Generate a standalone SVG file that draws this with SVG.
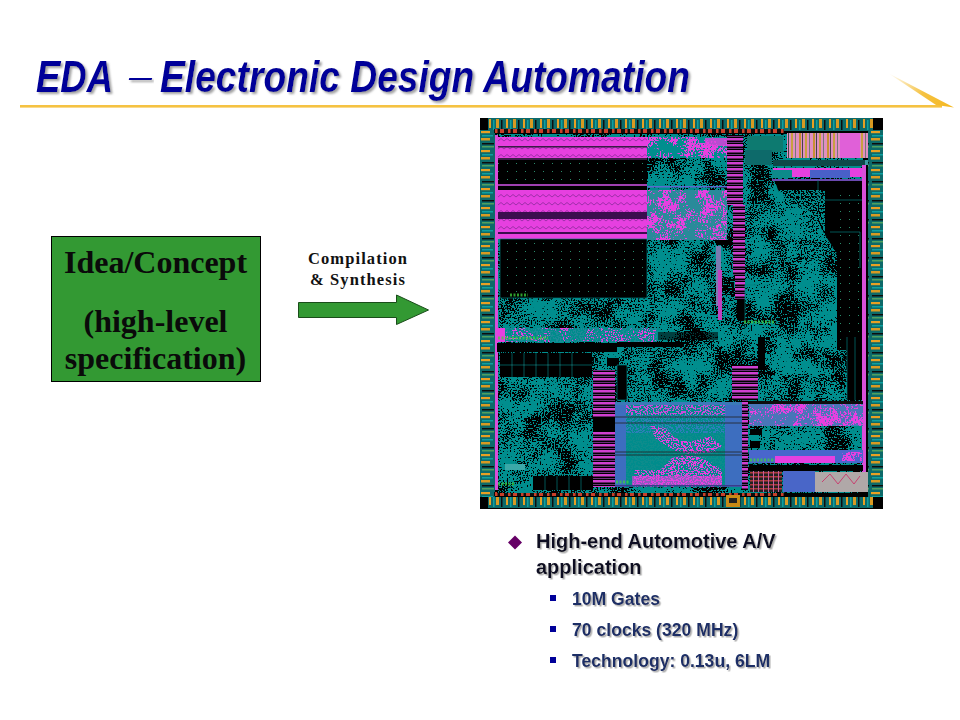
<svg xmlns="http://www.w3.org/2000/svg" width="960" height="720" viewBox="0 0 960 720">
<style>
.title{font:italic bold 44px "Liberation Sans",Arial,sans-serif;fill:#000099;filter:url(#shadow)}
.dash{font:italic normal 30px "Liberation Sans",Arial,sans-serif;fill:#000099;filter:url(#shadow)}
.box{font:bold 32px "Liberation Serif","Times New Roman",serif;fill:#0a0a0a;text-anchor:middle}
.lab{font:bold 16.5px "Liberation Serif","Times New Roman",serif;fill:#111;letter-spacing:1.1px}
.b1{font:bold 20px "Liberation Sans",Arial,sans-serif;fill:#111122;filter:url(#shadow2)}
.b2{font:bold 17.6px "Liberation Sans",Arial,sans-serif;fill:#1c2f66;filter:url(#shadow2)}
.tn{filter:url(#tealBlack)}
.tsp{filter:url(#tealOnly)}
.pk{fill:#e63fe0}
.pks{filter:url(#pinkSpeck)}
.blk{fill:#000}
.stripe{fill:url(#hstripe)}
.grid{fill:none;stroke:#0f7f7f;stroke-width:.7}
.gl{stroke:#3fd23f;stroke-width:3;stroke-dasharray:2 1.5;opacity:.75}
</style>
<defs>
<filter id="shadow" x="-5%" y="-20%" width="110%" height="140%"><feDropShadow dx="2" dy="2" stdDeviation="1" flood-color="#999" flood-opacity=".9"/></filter>
<filter id="shadow2" x="-5%" y="-20%" width="110%" height="140%"><feDropShadow dx="1.5" dy="1.5" stdDeviation=".7" flood-color="#999" flood-opacity=".8"/></filter>
<filter id="soft" x="0" y="0" width="1" height="1"><feGaussianBlur stdDeviation=".45"/></filter>
<filter id="tealBlack" x="0" y="0" width="1" height="1" color-interpolation-filters="sRGB">
<feTurbulence type="fractalNoise" baseFrequency=".04" numOctaves="3" seed="5"/>
<feColorMatrix values="2.4 0 0 0 -.7 2.4 0 0 0 -.7 2.4 0 0 0 -.7 0 0 0 0 1" result="lo"/>
<feTurbulence type="fractalNoise" baseFrequency=".7" numOctaves="1" seed="11"/>
<feColorMatrix values="2.4 0 0 0 -.7 2.4 0 0 0 -.7 2.4 0 0 0 -.7 0 0 0 0 1" result="hi"/>
<feComposite in="lo" in2="hi" operator="arithmetic" k2=".42" k3=".58" k4="0"/>
<feColorMatrix values="0 0 0 0 0 0 0 0 0 0 0 0 0 0 0 30 0 0 0 -16.5"/>
<feComposite in2="SourceGraphic" operator="over"/>
</filter>
<filter id="tealOnly" x="0" y="0" width="1" height="1" color-interpolation-filters="sRGB">
<feTurbulence type="fractalNoise" baseFrequency=".6" numOctaves="1" seed="21"/>
<feColorMatrix values="0 0 0 0 .02 0 0 0 0 .55 0 0 0 0 .55 60 0 0 0 -29"/>
</filter>
<filter id="pinkSpeck" x="0" y="0" width="1" height="1" color-interpolation-filters="sRGB">
<feTurbulence type="fractalNoise" baseFrequency=".07" numOctaves="2" seed="8"/>
<feColorMatrix values="2.4 0 0 0 -.7 2.4 0 0 0 -.7 2.4 0 0 0 -.7 0 0 0 0 1" result="lo"/>
<feTurbulence type="fractalNoise" baseFrequency=".6" numOctaves="1" seed="3"/>
<feColorMatrix values="2.4 0 0 0 -.7 2.4 0 0 0 -.7 2.4 0 0 0 -.7 0 0 0 0 1" result="hi"/>
<feComposite in="lo" in2="hi" operator="arithmetic" k2=".5" k3=".5" k4="0"/>
<feColorMatrix values="0 0 0 0 .9 0 0 0 0 .25 0 0 0 0 .88 30 0 0 0 -16.5"/>
<feComposite in2="SourceGraphic" operator="over"/>
</filter>
<pattern id="padH" width="17" height="13" patternUnits="userSpaceOnUse" x="488" y="118">
<rect width="17" height="13" fill="#0a6a6a"/><rect x="1" y="1" width="2" height="9" fill="#e8a020"/><rect x="5" y="2" width="1.5" height="10" fill="#0aa0a0"/><rect x="8" y="1" width="3" height="9" fill="#d89a20"/><rect x="13" y="2" width="1.5" height="10" fill="#111"/>
</pattern>
<pattern id="padV" width="15" height="19" patternUnits="userSpaceOnUse" x="480" y="130">
<rect width="15" height="19" fill="#0a6a6a"/><rect x="1" y="1" width="9" height="2.2" fill="#e8a020"/><rect x="2" y="5" width="11" height="1.5" fill="#0aa0a0"/><rect x="1" y="8" width="9" height="2.5" fill="#d89a20"/><rect x="2" y="13" width="12" height="1.5" fill="#111"/><rect x="2" y="16" width="12" height="1.5" fill="#4fa05f"/>
</pattern>
<pattern id="redRow" width="13" height="4" patternUnits="userSpaceOnUse">
<rect width="13" height="4" fill="#111"/><rect x="1" y="0" width="2.5" height="4" fill="#c8402a"/><rect x="6" y="0" width="4" height="4" fill="#c8402a"/>
</pattern>
<pattern id="wave" width="12" height="8" patternUnits="userSpaceOnUse">
<rect width="12" height="8" fill="#e63fe0"/><path d="M0 5 L3 2.5 L6 5 L9 2.5 L12 5" fill="none" stroke="#8a2a9a" stroke-width=".8"/>
</pattern>
<pattern id="dots" width="9" height="8" patternUnits="userSpaceOnUse">
<rect width="9" height="8" fill="#000"/><rect x="3" y="3" width="1" height="1" fill="#2a8a6a"/>
</pattern>
<pattern id="hstripe" width="4" height="6" patternUnits="userSpaceOnUse">
<rect width="4" height="6" fill="#000"/><rect y="0" width="4" height="2.5" fill="#d03fd0"/><rect y="4" width="4" height=".8" fill="#8a3a9a"/>
</pattern>
<pattern id="vmulti" width="14" height="4" patternUnits="userSpaceOnUse">
<rect width="14" height="4" fill="#e090c0"/><rect x="1" width="2" height="4" fill="#c89030"/><rect x="4" width="1" height="4" fill="#444"/><rect x="7" width="2" height="4" fill="#c8a040"/><rect x="11" width="1" height="4" fill="#777"/>
</pattern>
<pattern id="rstripe" width="5" height="4" patternUnits="userSpaceOnUse">
<rect width="5" height="4" fill="#222"/><rect width="5" height="1.5" fill="#b03a3a"/><rect x="3" width="1" height="4" fill="#c85a9a"/>
</pattern>
<linearGradient id="tip" gradientUnits="userSpaceOnUse" x1="888" y1="74" x2="953" y2="106"><stop offset="0" stop-color="#f5c242" stop-opacity="0"/><stop offset=".55" stop-color="#f5c242"/><stop offset="1" stop-color="#f5b820"/></linearGradient>
</defs>
<rect width="960" height="720" fill="#fff"/>

<g id="title">
<text class="title" x="36" y="92" textLength="77" lengthAdjust="spacingAndGlyphs">EDA</text>
<text class="dash" x="129" y="87" textLength="23" lengthAdjust="spacingAndGlyphs">–</text>
<text class="title" x="160" y="92" textLength="530" lengthAdjust="spacingAndGlyphs">Electronic Design Automation</text>
</g>
<g id="title-rule">
<rect x="20" y="105" width="922" height="2.6" fill="#f5c242"/>
<polygon points="888,73 954,107.500 936,105" fill="url(#tip)"/>
</g>

<g id="idea-node">
<rect x="51.5" y="236.5" width="209" height="145" fill="#339933" stroke="#000" stroke-width="1"/>
<text class="box" x="155.500" y="273">Idea/Concept</text>
<text class="box" x="155.500" y="332">(high-level</text>
<text class="box" x="155.500" y="369">specification)</text>
</g>

<g id="connectors">
<polygon points="298.500,302.500 396.500,302.500 396.500,295 428.500,310 396.500,324.500 396.500,317.500 298.500,317.500" fill="#339933" stroke="#1a4d1a" stroke-width="1"/>
<text class="lab" x="308" y="264">Compilation</text>
<text class="lab" x="310" y="285">&amp; Synthesis</text>
</g>

<g id="chip" filter="url(#soft)">
<rect x="480" y="118" width="403" height="391" fill="#000"/>
<rect x="488" y="118" width="385" height="13" fill="url(#padH)"/>
<rect x="488" y="497" width="385" height="11" fill="url(#padH)"/>
<rect x="480" y="130" width="15" height="367" fill="url(#padV)"/>
<rect x="868" y="130" width="15" height="367" fill="url(#padV)"/>
<rect x="494" y="129" width="290" height="4" fill="url(#redRow)"/>
<rect x="494" y="492" width="290" height="4" fill="url(#redRow)"/>

<rect class="tn" x="497" y="134" width="366" height="359" fill="#008e8e"/>

<!-- left memory bands -->
<rect x="497" y="137" width="150" height="21" fill="url(#wave)"/>
<rect x="497" y="146" width="150" height="1.500" fill="#3a1a4a"/>
<rect x="497" y="158" width="150" height="2" fill="#3a1a4a"/>
<rect x="498" y="160" width="149" height="24" fill="url(#dots)"/>
<rect x="497" y="184" width="150" height="2" fill="#a03fb0"/>
<rect x="497" y="186" width="150" height="4" fill="#000"/>
<rect x="497" y="190" width="150" height="22" fill="url(#wave)"/>
<rect x="497" y="212" width="150" height="7" fill="#3a1050"/>
<rect x="497" y="219" width="150" height="13" fill="url(#wave)"/>
<rect x="497" y="232" width="150" height="2" fill="#3a1050"/>
<rect x="497" y="234" width="150" height="5" class="pk"/>
<rect x="500" y="239" width="147" height="59" fill="url(#dots)"/>
<rect x="500" y="239" width="147" height="59" class="grid"/>

<!-- speckled pink to the right of bands -->
<rect class="pks" x="647" y="137" width="80" height="21" fill="#008e8e"/>
<rect class="pks" x="647" y="190" width="80" height="50" fill="#2a8a9a"/>
<rect x="647" y="186" width="80" height="1.500" fill="#5a6ad0"/>
<rect x="705" y="138" width="22" height="8" class="pk" opacity=".8"/>

<!-- central column -->
<rect class="stripe" x="727" y="135" width="16" height="70"/>
<rect class="stripe" x="733" y="205" width="12" height="70"/>
<rect class="blk" x="737" y="260" width="8" height="60"/>
<rect class="stripe" x="735" y="250" width="10" height="50"/>
<rect class="blk" x="716" y="240" width="15" height="5"/>
<rect x="716" y="246" width="5" height="60" fill="#7a7ab0"/>
<rect x="718" y="270" width="4" height="50" fill="#c040c0"/>

<!-- top mid and striped block -->
<rect x="747" y="136" width="36" height="16" fill="#0a7a70"/>
<rect x="745" y="150" width="27" height="15" fill="#0a6a6a"/>
<rect x="787" y="133" width="81" height="25" fill="url(#vmulti)"/>
<rect x="840" y="133" width="20" height="25" fill="#e060d8"/>
<rect x="846" y="160" width="22" height="5" fill="#3a9aa0"/>
<rect x="773" y="160" width="92" height="6" fill="#0a4a4a"/>
<rect x="773" y="168" width="92" height="9" class="pk"/>
<rect x="810" y="170" width="40" height="8" fill="#4a60c8"/>
<rect x="772" y="170" width="20" height="8" fill="#0a8a8a"/>
<rect x="772" y="179" width="92" height="2" fill="#6a4ab0"/>

<!-- right upper black area -->
<polygon points="775,181 862,181 862,250 838,255 825,235 812,212 796,205 778,190" fill="#000"/>
<rect class="tsp" x="775" y="190" width="50" height="50"/>
<rect x="837" y="190" width="25" height="160" fill="url(#dots)"/>
<path class="grid" d="M818,180V200H862M830,232H860V268"/>
<path class="grid" d="M745,285V340M745,285H770"/>

<!-- pink strips -->
<rect x="862" y="165" width="4" height="320" fill="#d84fd8"/>
<rect x="495" y="135" width="3" height="355" fill="#d84fd8"/>

<!-- left-mid band -->
<rect class="pks" x="497" y="328" width="160" height="14" fill="#1a8a98"/>
<rect class="tsp" x="505" y="328" width="152" height="14"/>
<rect x="497" y="328" width="8" height="14" class="pk"/>
<rect class="blk" x="617" y="342" width="66" height="5"/>
<rect class="blk" x="658" y="332" width="60" height="8" opacity=".55"/>
<rect class="blk" x="497" y="343" width="120" height="9"/>
<rect class="blk" x="500" y="353" width="92" height="24"/>
<path class="grid" d="M512,353V377M524,353V377M536,353V377M548,353V377M560,353V377M572,353V377M500,365H592"/>
<rect x="505" y="464" width="20" height="6" fill="#3aa8a8"/>
<rect class="blk" x="533" y="476" width="60" height="14"/>
<path class="grid" d="M545,476V490M557,476V490M569,476V490M581,476V490"/>

<!-- central stripes -->
<rect class="stripe" x="593" y="370" width="22" height="117"/>
<rect class="blk" x="593" y="418" width="22" height="14"/>
<rect class="blk" x="607" y="358" width="12" height="8"/>
<rect class="blk" x="617" y="365" width="10" height="35"/>
<path class="grid" d="M617,365V400H627V365Z"/>

<!-- blue pink block -->
<rect x="615" y="405" width="127" height="82" fill="#0b8c8c"/>
<rect x="626" y="405" width="100" height="28" fill="#2f7fb8"/>
<rect class="pk" x="626" y="405" width="100" height="10" opacity=".85"/>
<path class="pk" d="M650,425 L665,428 L675,438 L690,442 L710,436 L722,446 L715,452 L690,454 L672,450 L655,438Z"/>
<path class="pk" d="M635,470 L660,470 L672,458 L685,455 L705,458 L722,470 L722,487 L632,487Z"/>
<rect class="tsp" x="615" y="405" width="127" height="82"/>
<rect x="615" y="405" width="11" height="82" fill="#4a66cc" opacity=".8"/>
<rect x="725" y="405" width="17" height="82" fill="#4a66cc" opacity=".8"/>
<rect x="615" y="402" width="127" height="3" fill="#3a7ab8"/>
<path d="M615,417H742M615,423H742M615,452H742M615,455H742" stroke="#222" stroke-width=".8"/>
<rect x="632" y="476" width="90" height="9" class="pk" opacity=".6"/>
<rect x="615" y="485" width="127" height="1.500" fill="#3a3a8a"/>

<!-- central right stripes -->
<rect class="stripe" x="732" y="365" width="26" height="35"/>
<rect class="stripe" x="742" y="400" width="6" height="90"/>
<rect class="blk" x="758" y="337" width="7" height="33"/>
<rect class="blk" x="847" y="337" width="15" height="63"/>
<path class="grid" d="M847,337V400M855,337V400"/>

<!-- right lower bands -->
<rect x="749" y="401" width="114" height="3" fill="#111"/>
<rect class="pks" x="749" y="404" width="114" height="22" fill="#4a76b8"/>
<rect class="blk" x="750" y="429" width="12" height="6"/>
<rect class="blk" x="750" y="441" width="10" height="7"/>
<rect x="749" y="450" width="114" height="13" fill="#4a66cc"/>
<rect x="775" y="456" width="60" height="7" class="pk"/>
<rect class="pks" x="842" y="452" width="20" height="9" fill="#4a66cc"/>
<rect class="blk" x="749" y="465" width="114" height="6"/>

<!-- bottom right blocks -->
<rect x="750" y="471" width="32" height="21" fill="url(#rstripe)"/>
<rect x="783" y="471" width="32" height="21" fill="#4a66c8"/>
<rect x="815" y="472" width="53" height="20" fill="#b0a8a8"/>
<path d="M822,482L830,474L838,484L846,474L854,484L860,476" fill="none" stroke="#c84070" stroke-width="1"/>

<!-- green markers -->
<path class="gl" d="M510,295H528M498,338H548M744,322H775M498,484H514M616,482H630M750,460H775"/>
<rect x="726" y="495" width="14" height="12" fill="#c88a18"/>
<rect x="729" y="498" width="8" height="5" fill="#222"/>
</g>

<g id="bullets">
<polygon points="515,535.500 522,542.500 515,549.500 508,542.500" fill="#660066"/>
<text class="b1" x="536" y="548">High-end Automotive A/V</text>
<text class="b1" x="536" y="574">application</text>
<rect x="550" y="595" width="6" height="6" fill="#000099"/>
<text class="b2" x="572" y="605">10M Gates</text>
<rect x="550" y="626" width="6" height="6" fill="#000099"/>
<text class="b2" x="572" y="636">70 clocks (320 MHz)</text>
<rect x="550" y="657" width="6" height="6" fill="#000099"/>
<text class="b2" x="572" y="667">Technology: 0.13u, 6LM</text>
</g>
</svg>
